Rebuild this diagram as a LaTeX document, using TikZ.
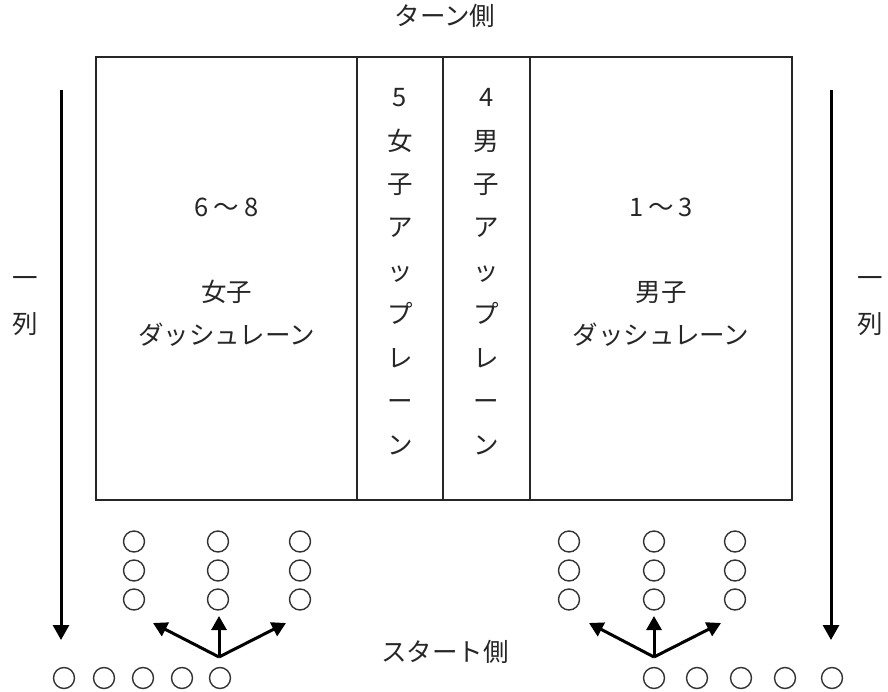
\documentclass[tikz,border=0pt]{standalone}
\usepackage{fontspec}
\setmainfont{Noto Sans CJK JP}
\usetikzlibrary{arrows.meta}
\begin{document}
\begin{tikzpicture}[x=1pt,y=-1pt,
  txt/.style={inner sep=0pt,text=black!85,font=\fontsize{25.5}{30}\selectfont,text height=0.88em,text depth=0.12em},
  pl/.style={circle,draw=black!80,line width=1.4pt,minimum size=21pt,inner sep=0pt},
  lane/.style={draw=black!85,line width=1.3pt},
  bigarr/.style={line width=3pt,-{Triangle[length=15pt,width=16pt]}},
  smallarr/.style={line width=3pt,-{Triangle[length=14pt,width=15pt]}}]
\useasboundingbox (0,0) rectangle (888,692);
% lanes
\draw[lane] (96,57) rectangle (792,500);
\draw[lane] (357,57) -- (357,500);
\draw[lane] (443,57) -- (443,500);
\draw[lane] (530,57) -- (530,500);
% labels
\node[txt] (turn) at (445,22) {ターン側};
\node[txt] (start) at (445,658) {スタート側};
\node[txt] (l1) at (226.5,213) {6\hspace{0.2em}～\hspace{0.2em}8};
\node[txt] (l2) at (226.5,298) {女子};
\node[txt] (l3) at (226.5,341) {ダッシュレーン};
\node[txt] (r1) at (661,213) {1\hspace{0.2em}～\hspace{0.2em}3};
\node[txt] (r2) at (661,298) {男子};
\node[txt] (r3) at (661,341) {ダッシュレーン};
\node[txt] (la) at (25,284) {一};
\node[txt] (lb) at (25,330) {列};
\node[txt] (ra) at (870,284) {一};
\node[txt] (rb) at (870,330) {列};
\foreach \c [count=\i] in {5,女,子,ア,ッ,プ,レ,ー,ン}
  \node[txt] (w\i) at (400,{103+43.4*(\i-1)}) {\c};
\foreach \c [count=\i] in {4,男,子,ア,ッ,プ,レ,ー,ン}
  \node[txt] (m\i) at (486.5,{103+43.4*(\i-1)}) {\c};
% players in lanes
\foreach \x [count=\j] in {134,218,300}
  \foreach \y [count=\k] in {541.5,570.5,599.5}
    \node[pl] (gl\j\k) at (\x,\y) {};
\foreach \x [count=\j] in {569,654,735}
  \foreach \y [count=\k] in {541.5,570.5,599.5}
    \node[pl] (gr\j\k) at (\x,\y) {};
% waiting line
\foreach \x [count=\j] in {64,104,143,182,220}
  \node[pl] (bl\j) at (\x,678) {};
\foreach \x [count=\j] in {654,697,741,785,832}
  \node[pl] (br\j) at (\x,678) {};
% long arrows
\coordinate (lt) at (61,90);
\coordinate (lh) at (61,640);
\coordinate (rt) at (831,90);
\coordinate (rh) at (831,640);
\draw[bigarr] (lt) -- (lh);
\draw[bigarr] (rt) -- (rh);
% fan arrows
\coordinate (sl) at (219,657);
\coordinate (sl1) at (153,623);
\coordinate (sl2) at (219,616);
\coordinate (sl3) at (286,623);
\draw[smallarr] (sl) -- (sl1);
\draw[smallarr] (sl) -- (sl2);
\draw[smallarr] (sl) -- (sl3);
\coordinate (sr) at (654,657);
\coordinate (sr1) at (589,623);
\coordinate (sr2) at (654,616);
\coordinate (sr3) at (721,623);
\draw[smallarr] (sr) -- (sr1);
\draw[smallarr] (sr) -- (sr2);
\draw[smallarr] (sr) -- (sr3);
\end{tikzpicture}
\end{document}
